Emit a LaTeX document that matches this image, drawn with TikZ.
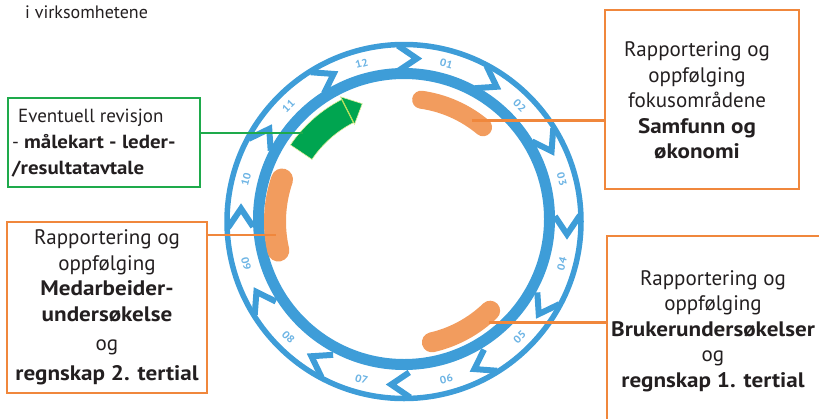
\documentclass[tikz,border=0pt]{standalone}
\usepackage{fontspec}
\setmainfont{PT Sans}[BoldFeatures={FakeStretch=1.10}]
\definecolor{ringblue}{HTML}{3E9DD8}
\definecolor{monthblue}{HTML}{6DB4E4}
\definecolor{framered}{HTML}{F0873C}
\definecolor{barorange}{HTML}{F29C5E}
\definecolor{framegreen}{HTML}{1EAA4B}
\definecolor{arrowgreen}{HTML}{00A550}
\definecolor{ink}{HTML}{231F20}
\tikzset{
  boxtext/.style={text=ink, font=\fontsize{21}{25.5}\selectfont, align=center, inner sep=0pt},
  orangebox/.style={draw=framered, line width=2.2pt, inner sep=0pt},
  greenbox/.style={draw=framegreen, line width=2.2pt, inner sep=0pt},
  orangelink/.style={draw=framered, line width=2.8pt},
  greenlink/.style={draw=framegreen, line width=2.8pt},
  chev/.style={draw=ringblue, line width=6pt, line join=miter},
  bar/.style={draw=barorange, line cap=round},
  month/.style={text=monthblue, font=\fontsize{10.5}{10.5}\selectfont\bfseries, inner sep=0pt}
}
\begin{document}
\begin{tikzpicture}[x=1pt, y=-1pt]
\useasboundingbox (0,0) rectangle (819,418);

% caption fragment in the upper left corner
\node[anchor=west, text=ink, font=\fontsize{18}{19}\selectfont, inner sep=0pt] (caption) at (25,12) {i virksomhetene};

% the year wheel
\begin{scope}[shift={(404,221.5)}, x=1pt, y=1pt]
  \draw[ringblue, line width=5.5pt] (0,0) circle (177);
  \draw[ringblue, line width=11pt] (0,2.5) circle (145.5);
  % chevron joints between the month arrows
  \foreach \b in {0,30,...,330}
    \draw[chev] ({\b+2}:176) -- ({\b-4.5}:163.5) -- ({\b+2}:151);
  % month numbers
  \foreach \m/\a in {12/105, 01/75, 02/45, 03/15, 04/-15, 05/-45, 06/-75, 07/-105, 08/-135, 09/-165, 10/165, 11/135} {
    \pgfmathsetmacro\rot{\a>0 ? \a-90 : \a+90}
    \node[month, rotate=\rot] (m\m) at (\a:163.5) {\m};
  }
  % reporting periods
  \draw[bar, line width=18pt] (82:123) arc[start angle=82, end angle=50, radius=123];
  \draw[bar, line width=22pt] (161:129) arc[start angle=161, end angle=193, radius=129];
  \draw[bar, line width=20pt] (-77:124) arc[start angle=-77, end angle=-46, radius=124];
  \coordinate (barA) at (56:122);
  \coordinate (barB) at (186:129);
  \coordinate (barC) at (-50:132);
  % revision arrow
  \fill[arrowgreen, draw=yellow!70!green!40, line width=0.6pt]
    (146:137) arc[start angle=146, end angle=117, radius=137]
    -- (117:111) arc[start angle=117, end angle=146, radius=111] -- cycle;
  \fill[arrowgreen, draw=yellow!70!green!40, line width=0.6pt]
    (117:140) -- (109.5:125) -- (117:109) -- cycle;
  \draw[yellow!60!green!70, line width=1.2pt] (117:137) -- (117:111);
  \coordinate (arrowtail) at (143.5:126);
\end{scope}

% text boxes
\node[greenbox, minimum width=192pt, minimum height=89pt] (revbox) at (104,142.5) {};
\node[anchor=north west, text=ink, font=\fontsize{19}{26}\selectfont, align=left, inner sep=0pt] (revtext) at (12,109)
  {\hspace{6pt}Eventuell revisjon\\- \textbf{målekart - leder-}\\\textbf{/resultatavtale}};

\node[orangebox, minimum width=194pt, minimum height=179pt] (focusbox) at (702,99.5) {};
\node[boxtext] (focustext) at (697,100.5)
  {Rapportering og\\oppfølging\\fokusområdene\\\textbf{Samfunn og}\\\textbf{økonomi}};

\node[orangebox, minimum width=200pt, minimum height=171pt] (staffbox) at (107,307.5) {};
\node[boxtext] (stafftext) at (107,307.5)
  {Rapportering og\\oppfølging\\\textbf{Medarbeider-}\\\textbf{undersøkelse}\\[4pt]og\\[4pt]\textbf{regnskap 2. tertial}};

\node[orangebox, anchor=north west, minimum width=240pt, minimum height=200pt] (userbox) at (606,235) {};
\node[boxtext] (usertext) at (713,331)
  {Rapportering og\\oppfølging\\\textbf{Brukerundersøkelser}\\og\\\textbf{regnskap 1. tertial}};

% connectors
\draw[greenlink] (revbox.east |- 0,133) -- (arrowtail |- 0,133);
\draw[orangelink] (focusbox.west |- barA) -- (barA);
\draw[orangelink] (staffbox.east |- barB) -- (barB);
\draw[orangelink] (userbox.west |- barC) -- (barC);
\end{tikzpicture}
\end{document}
